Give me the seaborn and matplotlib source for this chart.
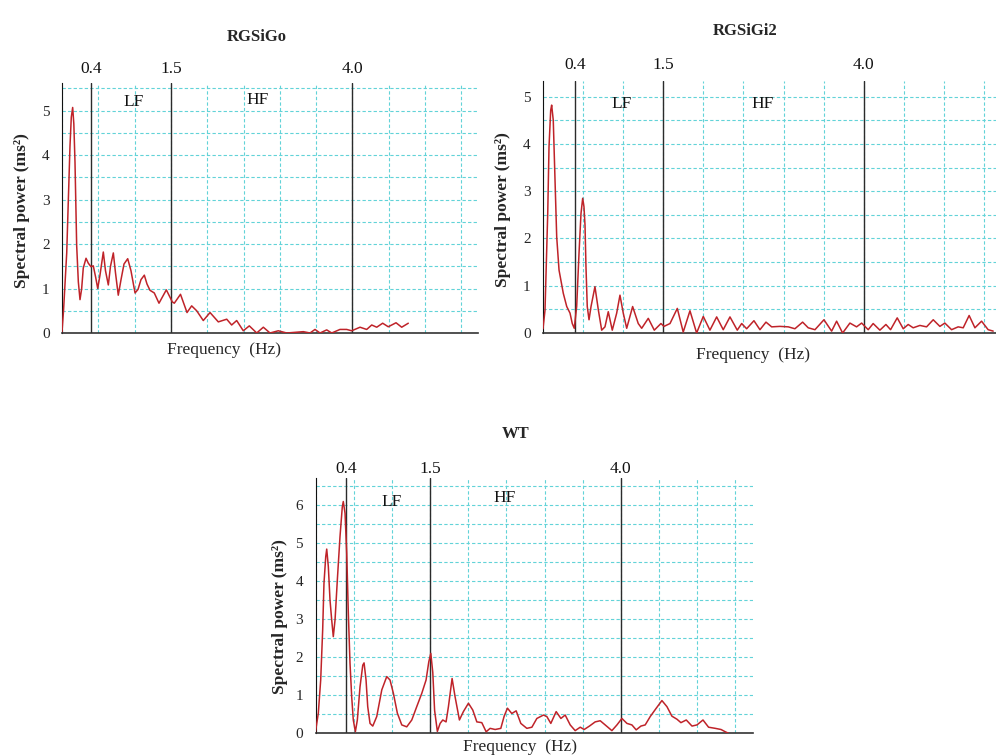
import matplotlib
matplotlib.use("Agg")
import matplotlib.pyplot as plt
import matplotlib.transforms as mtransforms
import numpy as np
import seaborn as sns

# ---------------------------------------------------------------------------
# data (frequency in Hz, power in ms^2)

rgsigo_freq = [0.0, 0.021, 0.065, 0.110, 0.128, 0.147, 0.163, 0.179, 0.202, 0.225,
               0.248, 0.271, 0.293, 0.331, 0.362, 0.399, 0.431, 0.464, 0.492, 0.523,
               0.569, 0.599, 0.638, 0.668, 0.707, 0.737, 0.775, 0.813, 0.854, 0.905,
               0.950, 1.006, 1.047, 1.088, 1.134, 1.171, 1.212, 1.271, 1.336, 1.437,
               1.519, 1.547, 1.632, 1.722, 1.786, 1.855, 1.946, 2.039, 2.153, 2.269,
               2.337, 2.406, 2.497, 2.580, 2.682, 2.773, 2.865, 2.979, 3.095, 3.324,
               3.416, 3.485, 3.554, 3.646, 3.715, 3.829, 3.921, 3.990, 4.105, 4.197,
               4.266, 4.335, 4.417, 4.494, 4.601, 4.679, 4.770]
rgsigo_power = [0.03, 0.5, 1.8, 4.2, 4.85, 5.07, 4.7, 3.84, 1.97, 1.15,
                0.75, 1.0, 1.46, 1.68, 1.57, 1.49, 1.51, 1.25, 1.0, 1.3,
                1.82, 1.4, 1.08, 1.5, 1.8, 1.35, 0.85, 1.2, 1.55, 1.67,
                1.4, 0.9, 0.98, 1.2, 1.3, 1.1, 0.96, 0.9, 0.67, 0.97,
                0.70, 0.67, 0.87, 0.46, 0.61, 0.5, 0.28, 0.46, 0.25, 0.31,
                0.18, 0.28, 0.05, 0.16, 0.0, 0.13, 0.0, 0.05, 0.0, 0.03,
                0.0, 0.08, 0.0, 0.07, 0.0, 0.08, 0.08, 0.05, 0.13, 0.08,
                0.18, 0.13, 0.22, 0.14, 0.23, 0.13, 0.22]

rgsigi2_freq = [0.0, 0.025, 0.059, 0.075, 0.096, 0.108, 0.128, 0.150, 0.171, 0.200,
                0.253, 0.296, 0.337, 0.365, 0.390, 0.420, 0.449, 0.474, 0.495, 0.511,
                0.524, 0.536, 0.552, 0.574, 0.599, 0.648, 0.690, 0.732, 0.773, 0.814,
                0.864, 0.919, 0.960, 1.001, 1.044, 1.118, 1.188, 1.231, 1.313, 1.388,
                1.471, 1.509, 1.584, 1.675, 1.749, 1.833, 1.916, 1.999, 2.082, 2.166,
                2.248, 2.332, 2.423, 2.478, 2.540, 2.631, 2.706, 2.781, 2.852, 2.955,
                3.059, 3.142, 3.238, 3.308, 3.392, 3.504, 3.600, 3.662, 3.737, 3.828,
                3.911, 3.974, 4.056, 4.118, 4.202, 4.277, 4.335, 4.418, 4.493, 4.555,
                4.617, 4.701, 4.784, 4.867, 4.950, 5.012, 5.096, 5.178, 5.241, 5.315,
                5.387, 5.470, 5.552, 5.615]
rgsigi2_power = [0.09, 0.48, 2.53, 3.94, 4.71, 4.82, 4.5, 3.23, 2.03, 1.33,
                 0.84, 0.56, 0.42, 0.2, 0.1, 0.56, 1.68, 2.53, 2.85, 2.67,
                 2.28, 1.4, 0.56, 0.28, 0.56, 0.98, 0.49, 0.06, 0.13, 0.45,
                 0.06, 0.42, 0.80, 0.42, 0.1, 0.56, 0.2, 0.1, 0.31, 0.06,
                 0.2, 0.14, 0.2, 0.52, 0.02, 0.47, 0.0, 0.35, 0.06, 0.34,
                 0.07, 0.34, 0.06, 0.2, 0.09, 0.26, 0.07, 0.23, 0.13, 0.14,
                 0.13, 0.09, 0.23, 0.11, 0.07, 0.28, 0.04, 0.25, 0.0, 0.21,
                 0.13, 0.21, 0.07, 0.2, 0.06, 0.18, 0.07, 0.32, 0.09, 0.18,
                 0.11, 0.16, 0.13, 0.28, 0.14, 0.21, 0.07, 0.13, 0.11, 0.37,
                 0.11, 0.25, 0.07, 0.04]

wt_freq = [0.0, 0.037, 0.068, 0.094, 0.111, 0.134, 0.147, 0.168, 0.190, 0.212,
           0.233, 0.256, 0.286, 0.321, 0.351, 0.364, 0.387, 0.409, 0.430, 0.452,
           0.474, 0.495, 0.522, 0.548, 0.583, 0.619, 0.636, 0.662, 0.684, 0.714,
           0.750, 0.802, 0.868, 0.933, 0.976, 1.020, 1.072, 1.130, 1.195, 1.261,
           1.326, 1.392, 1.448, 1.484, 1.510, 1.536, 1.560, 1.596, 1.632, 1.667,
           1.710, 1.741, 1.789, 1.828, 1.885, 1.937, 2.003, 2.060, 2.113, 2.178,
           2.235, 2.287, 2.353, 2.427, 2.471, 2.514, 2.571, 2.628, 2.689, 2.768,
           2.834, 2.899, 2.986, 3.030, 3.082, 3.152, 3.214, 3.270, 3.336, 3.401,
           3.467, 3.519, 3.588, 3.663, 3.729, 3.794, 3.882, 3.948, 4.013, 4.079,
           4.144, 4.200, 4.262, 4.318, 4.384, 4.463, 4.537, 4.603, 4.668, 4.734,
           4.786, 4.856, 4.931, 4.996, 5.075, 5.148, 5.236, 5.311, 5.367, 5.410]
wt_power = [0.04, 0.53, 1.4, 2.72, 3.94, 4.64, 4.84, 4.38, 3.5, 2.98,
            2.54, 2.98, 4.03, 5.17, 5.95, 6.09, 5.78, 4.73, 3.15, 1.84,
            0.96, 0.35, 0.04, 0.35, 1.22, 1.79, 1.85, 1.4, 0.7, 0.26,
            0.19, 0.44, 1.14, 1.49, 1.4, 1.05, 0.53, 0.22, 0.17, 0.35,
            0.7, 1.05, 1.4, 1.88, 2.1, 1.6, 0.6, 0.05, 0.26, 0.35,
            0.3, 0.7, 1.44, 0.96, 0.35, 0.57, 0.79, 0.61, 0.3, 0.28,
            0.04, 0.13, 0.1, 0.13, 0.45, 0.66, 0.52, 0.59, 0.26, 0.13,
            0.16, 0.39, 0.48, 0.44, 0.26, 0.57, 0.39, 0.48, 0.22, 0.07,
            0.16, 0.1, 0.19, 0.3, 0.33, 0.22, 0.07, 0.22, 0.39, 0.26,
            0.22, 0.09, 0.19, 0.22, 0.44, 0.66, 0.86, 0.7, 0.45, 0.37,
            0.28, 0.35, 0.19, 0.22, 0.35, 0.16, 0.13, 0.1, 0.04, 0.0]

band_edges = [0.4, 1.5, 4.0]
band_edge_labels = ["0.4", "1.5", "4.0"]
band_names = ["LF", "HF"]

titles = ["RGSiGo", "RGSiGi2", "WT"]

# ---------------------------------------------------------------------------

sns.set_style("white")
plt.rcParams['font.family'] = ['Liberation Serif', 'DejaVu Serif']

CURVE = '#bf2329'
GRID = '#62d3d8'
EDGE = '#2b2b2b'

fig = plt.figure(figsize=(9.96, 7.56), dpi=100)


def draw_panel(rect, freq, power, xmax, ymax, ymaj, xlab_pos, ylab_pos,
               edge_lab_y, band_pos, title, title_xy):

    ax = fig.add_axes(rect)

    # grid every 0.5 Hz / 0.5 ms^2
    ax.set_xticks(np.arange(0, xmax, 1.0))
    ax.set_xticks(np.arange(0.5, xmax, 1.0), minor=True)
    ax.set_yticks(np.arange(0, ymaj + 1, 1))
    ax.set_yticks(np.arange(0.5, ymax, 1.0), minor=True)
    ax.grid(which='both', color=GRID, linestyle=(0, (3, 2)), linewidth=0.8)
    ax.set_axisbelow(True)

    for x in band_edges:
        ax.axvline(x, color=EDGE, linewidth=1.0, zorder=2)

    sns.lineplot(x=freq, y=power, ax=ax, color=CURVE, linewidth=1.1, zorder=3,
                 solid_joinstyle='round')

    ax.set_xlim(0, xmax)
    ax.set_ylim(0, ymax)

    trans = mtransforms.blended_transform_factory(ax.transData, ax.transAxes)
    for x, lab in zip(band_edges, band_edge_labels):
        ax.text(x, edge_lab_y, lab, transform=trans, ha='center', va='bottom',
                fontsize=12.5, color='#111111')
    for (bx, by), name in zip(band_pos, band_names):
        ax.text(bx, by, name, transform=trans, ha='center', va='center',
                fontsize=12.5, color='#111111')

    sns.despine(ax=ax)
    ax.spines['left'].set_color('#111111')
    ax.spines['bottom'].set_color('#333333')
    ax.spines['bottom'].set_linewidth(1.2)

    ax.tick_params(axis='x', which='major', length=3, width=1, labelbottom=False,
                   color='#333333')
    ax.tick_params(axis='x', which='minor', length=0)
    ax.tick_params(axis='y', which='major', length=2, width=1, pad=7,
                   labelsize=11, color='#333333')
    ax.tick_params(axis='y', which='minor', length=0)

    ax.set_xlabel("Frequency  (Hz)", fontsize=12.5)
    ax.xaxis.set_label_coords(*xlab_pos)
    ax.set_ylabel("Spectral power (ms²)", fontsize=12.5, fontweight='bold')
    ax.yaxis.set_label_coords(*ylab_pos)

    fig.text(title_xy[0] / 996, 1 - title_xy[1] / 756, title, ha='center',
             va='center', fontsize=12, fontweight='bold')
    return ax


W, H = 996.0, 756.0

draw_panel([62 / W, 1 - 333 / H, 416 / W, 250 / H], rgsigo_freq, rgsigo_power,
           5.73, 5.62, 5, (0.39, -0.035), (-0.077, 0.49), 1.025,
           [(0.98, 0.924), (2.69, 0.932)], titles[0], (257, 37))

draw_panel([543 / W, 1 - 333 / H, 453 / W, 252 / H], rgsigi2_freq, rgsigi2_power,
           5.65, 5.33, 5, (0.464, -0.055), (-0.071, 0.49), 1.03,
           [(0.985, 0.909), (2.74, 0.909)], titles[1], (745, 31))

draw_panel([315.5 / W, 1 - 733.3 / H, 437.5 / W, 255 / H], wt_freq, wt_power,
           5.73, 6.7, 6, (0.467, -0.024), (-0.063, 0.456), 1.005,
           [(1.0, 0.907), (2.48, 0.923)], titles[2], (516, 434))

fig.savefig("out.png", dpi=100)
